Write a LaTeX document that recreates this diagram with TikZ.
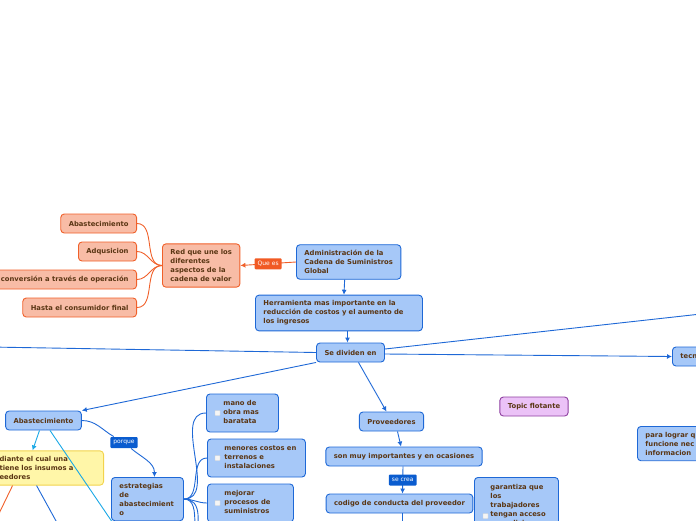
\documentclass[tikz,border=0pt]{standalone}
\usepackage{fontspec}
\setmainfont{DejaVu Sans}
\usetikzlibrary{arrows.meta,calc,positioning}
\definecolor{bfill}{HTML}{A6C8F8}
\definecolor{bline}{HTML}{1E68D6}
\definecolor{ofill}{HTML}{F8BCA6}
\definecolor{oline}{HTML}{F0602A}
\definecolor{yfill}{HTML}{FFF6A8}
\definecolor{yline}{HTML}{F2D34C}
\definecolor{pfill}{HTML}{EBC2F7}
\definecolor{pline}{HTML}{8E3FA0}
\definecolor{cline}{HTML}{1AA8E6}
\definecolor{lblue}{HTML}{0A5CCF}
\definecolor{qcol}{HTML}{F15A24}
\definecolor{tbrown}{HTML}{5A3614}
\newcommand{\chklines}[2]{\hspace*{#1}\begin{tabular}{@{}l@{}}#2\end{tabular}}

\begin{document}
\begin{tikzpicture}[x=1pt,y=-1pt,
every node/.style={font=\fontsize{6.8}{9}\selectfont\bfseries,text=tbrown,
  rounded corners=3.5pt,line width=0.9pt,inner xsep=8pt,inner ysep=5.5pt,align=left},
bbox/.style={draw=bline,fill=bfill},
obox/.style={draw=oline,fill=ofill},
ybox/.style={draw=yline,fill=yfill},
pbox/.style={draw=pline,fill=pfill},
one/.style={minimum height=19pt},
lbl/.style={font=\fontsize{6}{7}\selectfont,text=white,inner xsep=3pt,inner ysep=2.5pt,
  rounded corners=1pt,minimum height=11pt},
chk/.style={draw=gray!35,fill=gray!8,rounded corners=0.5pt,line width=0.4pt,
  minimum size=5pt,inner sep=0pt},
bl/.style={draw=bline,line width=0.9pt},
ol/.style={draw=oline,line width=0.9pt},
cl/.style={draw=cline,line width=0.9pt},
ar/.style={-{Latex[length=5pt,width=5pt]}}]
\useasboundingbox (0,0) rectangle (696,520);
\clip (0,0) rectangle (696,520);

\node[bbox,anchor=west] (Adm) at (296,262) {Administración de la\\Cadena de Suministros\\Global};
\node[obox,anchor=west] (Red) at (162,265.5) {Red que une los\\diferentes\\aspectos de la\\cadena de valor};
\node[obox,one,anchor=east] (O1) at (137,223.5) {Abastecimiento};
\node[obox,one,anchor=east] (O2) at (137,251.5) {Adqusicion};
\node[obox,one,anchor=east] (O3) at (137,279.5) {conversión a través de operación};
\node[obox,one,anchor=east] (O4) at (137,307.5) {Hasta el consumidor final};
\node[bbox,anchor=west,text width=151pt] (Her) at (255,313) {Herramienta mas importante en la\\reducción de costos y el aumento de\\los ingresos};
\node[bbox,one] (Div) at (350.5,352.5) {Se dividen en};
\node[bbox,one,anchor=west,text width=40pt] (Tec) at (672,356.5) {tecn};
\node[bbox,one] (Ab) at (43.5,420.5) {Abastecimiento};
\node[bbox,one] (Pro) at (391.5,421.5) {Proveedores};
\node[bbox,one] (Son) at (404,456.5) {son muy importantes y en ocasiones};
\node[bbox,one] (Cod) at (399.5,503.5) {codigo de conducta del proveedor};
\node[pbox,one] (Top) at (534,406.5) {Topic flotante};
\node[bbox,anchor=north west,text width=60pt] (Par) at (637,426) {para lograr q\\funcione nec\\informacion};
\node[ybox,anchor=east,text width=96pt] (Yel) at (104,468) {diante el cual una\\tiene los insumos a\\eedores};
\node[bbox,anchor=north west,text width=56pt] (Est) at (111,477) {estrategias\\de\\abastecimient\\o};
\node[bbox,anchor=west,text width=56pt] (Man) at (206,413) {\chklines{9pt}{mano de\\obra mas\\baratata}};
\node[bbox,anchor=west,text width=82pt] (Men) at (207,458) {\chklines{9pt}{menores costos en\\terrenos e\\instalaciones}};
\node[bbox,anchor=west,text width=70pt] (Mej) at (207,503) {\chklines{9pt}{mejorar\\procesos de\\suministros}};
\node[bbox,anchor=north west,text width=68pt] (Gar) at (474,477) {\chklines{8pt}{garantiza que\\los\\trabajadores\\tengan acceso\\a condiciones}};
\node[chk] (C1) at (217.5,413) {};
\node[chk] (C2) at (217.5,458) {};
\node[chk] (C3) at (217.5,503) {};
\node[chk] (C4) at (485.5,516) {};

\coordinate (L1) at (-10,347);
\coordinate (R1) at (710,313);
\coordinate (D1) at (402,530);
\coordinate (D2) at (119,532);
\coordinate (D3) at (-8,528);
\coordinate (D4) at (61,530);
\coordinate (D5) at (206,548);
\coordinate (D6) at (206,593);

\draw[ol,ar] (Adm.west) -- node[lbl,fill=qcol] (Qes) {Que es} (Red.east);
\draw[ol] (Red.west) to[out=180,in=0] (O1.east);
\draw[ol] (Red.west) to[out=180,in=0] (O2.east);
\draw[ol] (Red.west) to[out=180,in=0] (O3.east);
\draw[ol] (Red.west) to[out=180,in=0] (O4.east);
\draw[bl,ar] ([xshift=-4pt]Adm.south) -- ([xshift=5pt]Her.north);
\draw[bl,ar] ([xshift=-3pt]Div.north |- Her.south) -- ([xshift=-3pt]Div.north);
\draw[bl] (Div.west) -- (L1);
\draw[bl] ([yshift=3.5pt]Div.east) -- (R1);
\draw[bl,ar] ([yshift=-1.5pt]Div.east) -- (Tec.west);
\draw[bl,ar] (Div.south west) -- (Ab.north east);
\draw[bl,ar] ([xshift=8pt]Div.south) -- ([xshift=-5pt]Pro.north);
\draw[bl,ar] ([xshift=6pt]Pro.south) -- ([xshift=-3pt]Son.north);
\draw[bl,ar] ([xshift=-1pt]Son.south) -- node[lbl,fill=lblue] (Scr) {se crea} ([xshift=3pt]Cod.north);
\draw[bl] ([xshift=2.5pt]Cod.south) -- (D1);
\draw[cl,ar] ([xshift=-4pt]Ab.south) -- ([xshift=-15pt]Yel.north);
\draw[cl] ([xshift=6.5pt]Ab.south) -- (D2);
\draw[ol] ([xshift=-35pt]Yel.south) -- (D3);
\draw[bl] ([xshift=-11pt]Yel.south) -- (D4);
\node[lbl,fill=lblue] (Porq) at (124,442.5) {porque};
\draw[bl] (Ab.east) to[out=0,in=150] (Porq);
\draw[bl,ar] (Porq) to[out=-40,in=90] ([xshift=7pt]Est.north);
\draw[bl] (Est.east) to[out=0,in=180] (Man.west);
\draw[bl] (Est.east) to[out=0,in=180] (Men.west);
\draw[bl] (Est.east) to[out=0,in=180] (Mej.west);
\draw[bl] (Est.east) to[out=0,in=180] (D5);
\draw[bl] (Est.east) to[out=0,in=180] (D6);
\end{tikzpicture}
\end{document}
